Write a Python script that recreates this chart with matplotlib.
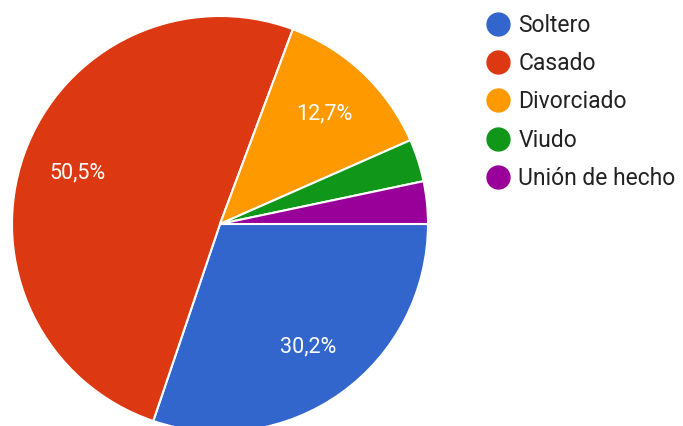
import matplotlib.pyplot as plt
from matplotlib.lines import Line2D

plt.rcParams['font.family'] = ['Roboto', 'DejaVu Sans']

labels = ['Soltero', 'Casado', 'Divorciado', 'Viudo', 'Unión de hecho']
values = [30.2, 50.5, 12.7, 3.3, 3.3]
colors = ['#3366CC', '#DC3912', '#FF9900', '#109618', '#990099']


def pct_label(p):
    if p < 5:
        return ''
    return f'{p:.1f}%'.replace('.', ',')


fig = plt.figure(figsize=(6.83, 4.26), dpi=100)
r = 208
cx, cy = 220, 224
ax = fig.add_axes([(cx - r) / 683, (426 - cy - r) / 426, 2 * r / 683, 2 * r / 426])
wedges, texts, autotexts = ax.pie(
    values, colors=colors, startangle=0, counterclock=False,
    autopct=pct_label, pctdistance=0.73,
    wedgeprops=dict(edgecolor='white', linewidth=1.5),
    textprops=dict(color='white', fontsize=15.5),
)
ax.set_xlim(-1, 1)
ax.set_ylim(-1, 1)
ax.set_aspect('equal')
ax.axis('off')

handles = [Line2D([], [], marker='o', linestyle='', markersize=16.5,
                  markerfacecolor=c, markeredgecolor=c) for c in colors]
fig.legend(handles, labels, loc='upper left', bbox_to_anchor=(477 / 683, 1 - 5 / 426),
           frameon=False, fontsize=16.5, handlelength=1.0, handletextpad=0.41,
           labelspacing=0.66, labelcolor='#222222', borderaxespad=0)

fig.savefig('out.png', dpi=100)
